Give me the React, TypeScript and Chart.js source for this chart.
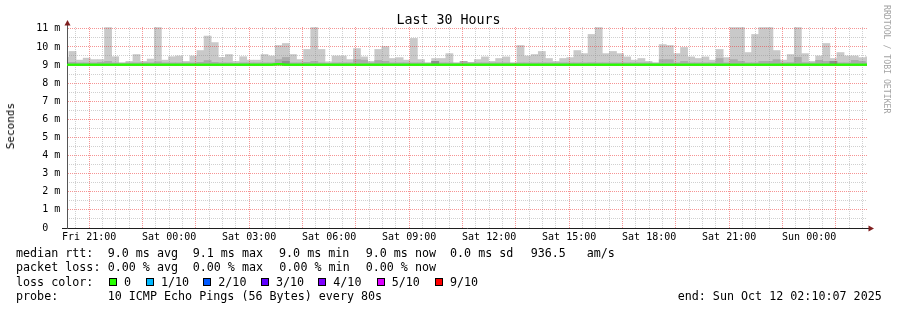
import React, { useEffect, useRef } from "react";
import { Chart, registerables } from "chart.js";

Chart.register(...registerables);

// ---------- data ----------
// time axis: hours counted from Fri 00:00
const windowStartHour = 20 + 10 / 60 + 7 / 3600; // Fri 20:10:07
const windowHours = 30;
const firstBinStartMin = 19 * 60 + 58.5; // first (partial) consolidated bin
const binMinutes = 16;

const smokeFloor = 9.0; // ms, lowest ping of every bin

// upper edge of the smoke (slowest ping) per bin, ms
const smokeMax = [
  9.43,
  9.75, 9.27, 9.38, 9.30, 9.30, 11.07, 9.46, 9.13, 9.20, 9.58,
  9.20, 9.33, 11.07, 9.27, 9.46, 9.50, 9.20, 9.50, 9.80, 10.60,
  10.24, 9.42, 9.58, 9.20, 9.46, 9.27, 9.27, 9.58, 9.50, 10.08,
  10.19, 9.58, 9.30, 9.86, 11.07, 9.86, 9.18, 9.50, 9.50, 9.30,
  9.91, 9.45, 9.20, 9.86, 10.02, 9.36, 9.41, 9.27, 10.47, 9.30,
  9.13, 9.36, 9.36, 9.63, 9.13, 9.18, 9.15, 9.30, 9.45, 9.20,
  9.36, 9.45, 9.13, 10.08, 9.50, 9.58, 9.75, 9.36, 9.20, 9.36,
  9.41, 9.80, 9.63, 10.69, 11.07, 9.63, 9.75, 9.63, 9.45, 9.27,
  9.36, 9.20, 9.13, 10.13, 10.08, 9.63, 9.97, 9.45, 9.36, 9.45,
  9.27, 9.86, 9.41, 11.07, 11.07, 9.69, 10.69, 11.07, 11.07, 9.80,
  9.27, 9.58, 11.07, 9.63, 9.20, 9.50, 10.19, 9.36, 9.69, 9.50,
  9.50, 9.41, 9.45,
];

// inner (denser) smoke layer per bin, ms
const smokeInner = [
  9.15,
  9.15, 9.12, 9.12, 9.12, 9.15, 9.20, 9.12, 9.10, 9.12, 9.12,
  9.12, 9.12, 9.18, 9.12, 9.12, 9.12, 9.12, 9.12, 9.15, 9.25,
  9.15, 9.12, 9.12, 9.10, 9.12, 9.12, 9.12, 9.12, 9.12, 9.30,
  9.42, 9.12, 9.12, 9.15, 9.20, 9.12, 9.10, 9.12, 9.12, 9.12,
  9.30, 9.27, 9.12, 9.25, 9.20, 9.12, 9.12, 9.12, 9.12, 9.12,
  9.10, 9.20, 9.12, 9.12, 9.10, 9.20, 9.12, 9.12, 9.12, 9.12,
  9.12, 9.12, 9.10, 9.12, 9.12, 9.12, 9.12, 9.12, 9.12, 9.12,
  9.12, 9.12, 9.12, 9.13, 9.12, 9.12, 9.12, 9.12, 9.12, 9.12,
  9.12, 9.12, 9.10, 9.30, 9.30, 9.12, 9.20, 9.12, 9.12, 9.12,
  9.12, 9.36, 9.12, 9.30, 9.20, 9.12, 9.12, 9.20, 9.20, 9.30,
  9.12, 9.13, 9.43, 9.13, 9.12, 9.26, 9.20, 9.20, 9.12, 9.12,
  9.26, 9.20, 9.12,
];

// densest smoke core (only where visible), ms
const smokeCore: (number | null)[] = [
  null,
  null, null, null, null, null, null, null, null, null, null,
  null, null, null, null, null, null, null, null, null, null,
  null, null, null, null, null, null, null, null, null, null,
  9.20, null, null, null, null, null, null, null, null, null,
  null, null, null, null, null, null, null, null, null, null,
  null, 9.20, null, null, null, null, null, null, null, null,
  null, null, null, null, null, null, null, null, null, null,
  null, null, null, null, null, null, null, null, null, null,
  null, null, null, null, null, null, null, null, null, null,
  null, null, null, null, null, null, null, null, null, null,
  null, null, null, null, null, null, null, 9.20, null, null,
  null, null, null,
];

// median rtt per bin, ms
const medianRtt = [
  9.01,
  9.01, 9.01, 9.01, 9.01, 9.01, 9.01, 9.01, 9.01, 9.01, 9.01,
  9.01, 9.01, 9.01, 9.01, 9.01, 9.01, 9.01, 9.01, 9.01, 9.01,
  9.01, 9.01, 9.01, 9.01, 9.01, 9.01, 9.01, 9.01, 9.01, 9.06,
  9.01, 9.01, 9.01, 9.01, 9.01, 9.01, 9.01, 9.01, 9.01, 9.01,
  9.01, 9.01, 9.01, 9.01, 9.01, 9.01, 9.01, 9.01, 9.01, 9.01,
  9.01, 9.01, 9.01, 9.01, 9.01, 9.01, 9.01, 9.01, 9.01, 9.01,
  9.01, 9.01, 9.01, 9.01, 9.01, 9.01, 9.01, 9.01, 9.01, 9.01,
  9.01, 9.01, 9.01, 9.01, 9.01, 9.01, 9.01, 9.01, 9.01, 9.01,
  9.01, 9.01, 9.01, 9.01, 9.01, 9.01, 9.01, 9.01, 9.01, 9.01,
  9.01, 9.01, 9.01, 9.01, 9.01, 9.01, 9.01, 9.01, 9.01, 9.01,
  9.01, 9.01, 9.01, 9.01, 9.01, 9.01, 9.01, 9.01, 9.01, 9.01,
  9.01, 9.01, 9.01,
];

const yMin = 0;
const yMax = 11.1;
const yTickValues = [0, 1, 2, 3, 4, 5, 6, 7, 8, 9, 10, 11];
const yTickLabels = ["0  ", "1 m", "2 m", "3 m", "4 m", "5 m", "6 m", "7 m", "8 m", "9 m", "10 m", "11 m"];
const yMinorValues = [0.5, 1.5, 2.5, 3.5, 4.5, 5.5, 6.5, 7.5, 8.5, 9.5, 10.5];

const xLabelHours = [21, 24, 27, 30, 33, 36, 39, 42, 45, 48];
const xTickLabels = [
  "Fri 21:00", "Sat 00:00", "Sat 03:00", "Sat 06:00", "Sat 09:00",
  "Sat 12:00", "Sat 15:00", "Sat 18:00", "Sat 21:00", "Sun 00:00",
];
const majorGridHours = [21, 23, 25, 27, 29, 31, 33, 35, 37, 39, 41, 43, 45, 47, 49];
const minorGridStepHours = 0.5;

const titleText = "Last 30 Hours";
const yAxisTitle = "Seconds";
const creditText = "RRDTOOL / TOBI OETIKER";
const rttRowLabel = "median rtt:";
const rttStats = ["9.0 ms avg", "9.1 ms max", "9.0 ms min", "9.0 ms now", "0.0 ms sd", "936.5", "am/s"];
const lossRowLabel = "packet loss:";
const lossStats = ["0.00 % avg", "0.00 % max", "0.00 % min", "0.00 % now"];
const colorRowLabel = "loss color:";
const lossLabels = ["0", "1/10", "2/10", "3/10", "4/10", "5/10", "9/10"];
const lossColors = ["#26ff00", "#00b8ff", "#0059ff", "#5e00ff", "#7e00ff", "#dd00ff", "#ff0000"];
const probeRowLabel = "probe:";
const probeText = "10 ICMP Echo Pings (56 Bytes) every 80s";
const endText = "end: Sun Oct 12 02:10:07 2025";

// ---------- layout / style ----------
const W = 897;
const H = 310;
const MONO = '"DejaVu Sans Mono", "Liberation Mono", monospace';
const RED_GRID = "rgba(238,50,50,0.52)";
const GRAY_GRID = "rgba(143,143,143,0.42)";
const DASH = [1, 1];

const rttX = [107.7, 192.7, 279, 365.7, 450, 530.7, 586.7];
const lossX = [107.7, 192.7, 279.3, 365.7];
const boxX = [108.7, 145.7, 202.7, 260.7, 318.3, 376.7, 435];
const lossLabelX = [124, 161, 218.3, 276, 333.3, 391.7, 450];
const rowBase = [258, 272.3, 286.5, 300.7];
const LEG_FS = 11.7;

function Txt(props: { x: number; base: number; size: number; color?: string; children: React.ReactNode }) {
  const { x, base, size, color, children } = props;
  return (
    <div
      style={{
        position: "absolute",
        left: x,
        top: base - 0.846 * size,
        font: `${size}px ${MONO}`,
        lineHeight: `${size}px`,
        whiteSpace: "pre",
        color: color || "#000",
      }}
    >
      {children}
    </div>
  );
}

export default function App() {
  const ref = useRef<HTMLCanvasElement | null>(null);

  useEffect(() => {
    const canvas = ref.current;
    if (!canvas) return;
    const windowEndHour = windowStartHour + windowHours;
    const centers = smokeMax.map((_, i) => (firstBinStartMin + (i + 0.5) * binMinutes) / 60);
    const floating = (arr: (number | null)[]) =>
      arr
        .map((v, i) => (v == null ? null : { x: centers[i], y: [smokeFloor, v] }))
        .filter((p) => p !== null);

    const barCommon = {
      grouped: false,
      barPercentage: 1,
      categoryPercentage: 1,
      borderWidth: 0,
      xAxisID: "x",
      yAxisID: "y",
    };

    const MEDIAN_INDEX = 0;

    const overlay = {
      id: "rrdOverlay",
      afterDraw(chart: any) {
        const { ctx, chartArea: a } = chart;
        // median line above the grid
        ctx.save();
        ctx.beginPath();
        ctx.rect(a.left, a.top, a.right - a.left, a.bottom - a.top);
        ctx.clip();
        chart.getDatasetMeta(MEDIAN_INDEX).controller.draw();
        ctx.restore();
        // axis extensions and arrows
        ctx.save();
        ctx.lineWidth = 1;
        ctx.strokeStyle = "#1f1f1f";
        ctx.beginPath();
        ctx.moveTo(a.left - 5, a.bottom + 0.5);
        ctx.lineTo(a.left, a.bottom + 0.5);
        ctx.moveTo(a.right, a.bottom + 0.5);
        ctx.lineTo(a.right + 2, a.bottom + 0.5);
        ctx.stroke();
        ctx.strokeStyle = "#555";
        ctx.beginPath();
        ctx.moveTo(a.left + 0.5, a.top);
        ctx.lineTo(a.left + 0.5, a.top - 2);
        ctx.stroke();
        ctx.fillStyle = "#801f1f";
        ctx.beginPath();
        ctx.moveTo(a.left + 0.5, a.top - 7);
        ctx.lineTo(a.left + 3.5, a.top - 1.5);
        ctx.lineTo(a.left - 2.5, a.top - 1.5);
        ctx.closePath();
        ctx.fill();
        ctx.beginPath();
        ctx.moveTo(a.right + 7, a.bottom + 0.5);
        ctx.lineTo(a.right + 1.5, a.bottom - 2.5);
        ctx.lineTo(a.right + 1.5, a.bottom + 3.5);
        ctx.closePath();
        ctx.fill();
        ctx.restore();
      },
    };

    const hiddenAxis = (pos: string) => ({
      type: "linear",
      position: pos,
      display: true,
      offset: false,
      ticks: { display: false, autoSkip: false },
      border: { display: false, dash: DASH },
    });

    const chart = new Chart(canvas, {
      type: "bar",
      data: {
        datasets: [
          {
            type: "line",
            label: "median rtt",
            data: medianRtt.map((v, i) => ({ x: centers[i], y: v })),
            borderColor: lossColors[0],
            borderWidth: 2,
            pointRadius: 0,
            tension: 0,
            order: 1,
            xAxisID: "x",
            yAxisID: "y",
          },
          { ...barCommon, label: "core", data: floating(smokeCore), backgroundColor: "#8e8e8e", order: 2 },
          { ...barCommon, label: "inner", data: floating(smokeInner), backgroundColor: "#ababab", order: 3 },
          { ...barCommon, label: "smoke", data: floating(smokeMax), backgroundColor: "#c9c9c9", order: 4 },
        ] as any,
      },
      plugins: [overlay],
      options: {
        animation: false,
        responsive: false,
        events: [],
        layout: { padding: { top: 27, right: 30, bottom: 0, left: 0 } },
        plugins: { legend: { display: false }, tooltip: { enabled: false }, title: { display: false } },
        scales: {
          x: {
            type: "linear",
            position: "bottom",
            offset: false,
            min: windowStartHour,
            max: windowEndHour,
            afterBuildTicks: (s: any) => {
              s.ticks = xLabelHours.map((v) => ({ value: v }));
            },
            afterFit: (s: any) => {
              s.height = H - 228;
            },
            ticks: {
              callback: (_v: any, i: number) => xTickLabels[i],
              font: { family: MONO, size: 10 },
              color: "#000",
              padding: 3.5,
              maxRotation: 0,
              autoSkip: false,
            },
            grid: { display: false, drawTicks: false, offset: false },
            border: { display: true, color: "#1f1f1f", width: 1 },
          },
          xMinor: {
            ...hiddenAxis("bottom"),
            min: windowStartHour,
            max: windowEndHour,
            afterBuildTicks: (s: any) => {
              const t: any[] = [];
              for (let h = Math.ceil(windowStartHour / minorGridStepHours) * minorGridStepHours; h <= windowEndHour; h += minorGridStepHours) {
                if (majorGridHours.indexOf(h) < 0) t.push({ value: h });
              }
              s.ticks = t;
            },
            afterFit: (s: any) => {
              s.height = 0;
            },
            grid: { color: GRAY_GRID, lineWidth: 1, drawTicks: false, offset: false, z: 1 },
          },
          xMajor: {
            ...hiddenAxis("bottom"),
            min: windowStartHour,
            max: windowEndHour,
            afterBuildTicks: (s: any) => {
              s.ticks = majorGridHours.map((v) => ({ value: v }));
            },
            afterFit: (s: any) => {
              s.height = 0;
            },
            grid: { color: RED_GRID, lineWidth: 1, drawTicks: false, offset: false, z: 2 },
          },
          y: {
            type: "linear",
            position: "left",
            min: yMin,
            max: yMax,
            afterBuildTicks: (s: any) => {
              s.ticks = yTickValues.map((v) => ({ value: v }));
            },
            afterFit: (s: any) => {
              s.width = 67;
            },
            ticks: {
              callback: (_v: any, i: number) => yTickLabels[i],
              font: { family: MONO, size: 10 },
              color: "#000",
              padding: 6.7,
              autoSkip: false,
            },
            grid: {
              color: (c: any) => (c.tick && c.tick.value === 0 ? "rgba(0,0,0,0)" : RED_GRID),
              lineWidth: 1,
              drawTicks: false,
              z: 2,
            },
            border: { display: true, color: "#555", width: 1, dash: DASH, z: 2 },
          },
          yMinor: {
            ...hiddenAxis("left"),
            min: yMin,
            max: yMax,
            afterBuildTicks: (s: any) => {
              s.ticks = yMinorValues.map((v) => ({ value: v }));
            },
            afterFit: (s: any) => {
              s.width = 0;
            },
            grid: { color: GRAY_GRID, lineWidth: 1, drawTicks: false, z: 1 },
          },
        },
      } as any,
    });
    return () => chart.destroy();
  }, []);

  return (
    <div style={{ position: "absolute", left: 0, top: 0, width: W, height: H, background: "#fff", overflow: "hidden" }}>
      <canvas ref={ref} width={W} height={H} style={{ position: "absolute", left: 0, top: 0, width: W, height: H }} />
      <div
        style={{
          position: "absolute",
          left: 448.5,
          top: 24 - 0.846 * 13.3,
          transform: "translateX(-50%)",
          font: `13.3px ${MONO}`,
          lineHeight: "13.3px",
          whiteSpace: "pre",
          color: "#000",
        }}
      >
        {titleText}
      </div>
      <div
        style={{
          position: "absolute",
          left: 5,
          top: 103,
          writingMode: "vertical-rl",
          transform: "rotate(180deg)",
          font: `11px ${MONO}`,
          lineHeight: "11px",
          whiteSpace: "pre",
          color: "#000",
        }}
      >
        {yAxisTitle}
      </div>
      <div
        style={{
          position: "absolute",
          left: 882,
          top: 5,
          writingMode: "vertical-rl",
          font: `8.2px ${MONO}`,
          lineHeight: "9px",
          whiteSpace: "pre",
          color: "#a3a3a3",
        }}
      >
        {creditText}
      </div>

      <Txt x={16} base={rowBase[0]} size={LEG_FS}>{rttRowLabel}</Txt>
      {rttStats.map((s, i) => (
        <Txt key={"r" + i} x={rttX[i]} base={rowBase[0]} size={LEG_FS}>{s}</Txt>
      ))}
      <Txt x={16} base={rowBase[1]} size={LEG_FS}>{lossRowLabel}</Txt>
      {lossStats.map((s, i) => (
        <Txt key={"l" + i} x={lossX[i]} base={rowBase[1]} size={LEG_FS}>{s}</Txt>
      ))}
      <Txt x={16} base={rowBase[2]} size={LEG_FS}>{colorRowLabel}</Txt>
      {lossLabels.map((s, i) => (
        <React.Fragment key={"c" + i}>
          <div
            style={{
              position: "absolute",
              left: boxX[i],
              top: 278,
              width: 6,
              height: 6,
              background: lossColors[i],
              border: "1px solid #000",
            }}
          />
          <Txt x={lossLabelX[i]} base={rowBase[2]} size={LEG_FS}>{s}</Txt>
        </React.Fragment>
      ))}
      <Txt x={16} base={rowBase[3]} size={LEG_FS}>{probeRowLabel}</Txt>
      <Txt x={107.7} base={rowBase[3]} size={LEG_FS}>{probeText}</Txt>
      <Txt x={677.7} base={rowBase[3]} size={LEG_FS}>{endText}</Txt>
    </div>
  );
}
